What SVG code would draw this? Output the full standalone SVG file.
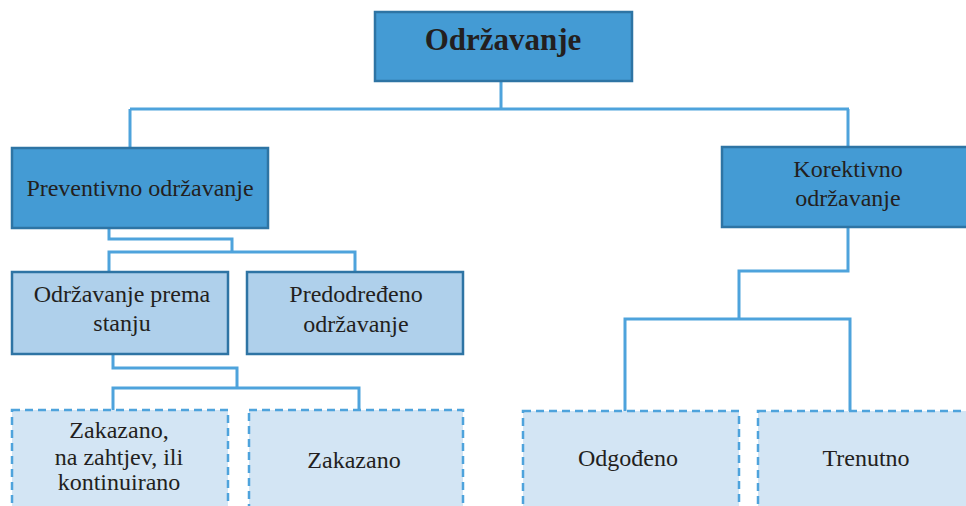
<svg xmlns="http://www.w3.org/2000/svg" width="966" height="506" viewBox="0 0 966 506">
<style>
.dark{fill:#449bd4;stroke:#2e74a4;stroke-width:2.5}
.mid{fill:#afd0eb;stroke:#2e74a4;stroke-width:2.5}
.dash{fill:#d3e5f4;stroke:#4ea3dc;stroke-width:2.5;stroke-dasharray:8 5}
.t{font-family:"Liberation Serif","Times New Roman",serif;font-size:24px;fill:#231f20;text-anchor:middle}
.b{font-weight:bold;font-size:31px}
.c{fill:none;stroke:#4ea3dc;stroke-width:3}
</style>
<rect width="966" height="506" fill="#ffffff"/>
<g id="connectors">
<path class="c" d="M501 81 V109 M130 109 H849 M130 109 V148 M848 109 V147"/>
<path class="c" d="M109 228 V239 H232 V252 M109 272 V252 H355 V272"/>
<path class="c" d="M113 354 V368 H237 V388 M113 410 V388 H359 V410"/>
<path class="c" d="M848 227 V271 H739 V319 M625 411 V319 H850 V411"/>
</g>
<g id="odrzavanje">
<rect class="dark" x="375" y="12" width="257" height="69"/>
<text class="t b" x="503" y="50">Održavanje</text>
</g>
<g id="preventivno">
<rect class="dark" x="12" y="148" width="256" height="80"/>
<text class="t" x="140" y="196">Preventivno održavanje</text>
</g>
<g id="korektivno">
<rect class="dark" x="722" y="147" width="250" height="80"/>
<text class="t" x="848" y="177">Korektivno</text>
<text class="t" x="848" y="206">održavanje</text>
</g>
<g id="prema-stanju">
<rect class="mid" x="12" y="272" width="216" height="82"/>
<text class="t" x="122" y="302">Održavanje prema</text>
<text class="t" x="122" y="331">stanju</text>
</g>
<g id="predodredeno">
<rect class="mid" x="247" y="272" width="216" height="82"/>
<text class="t" x="356" y="302">Predodređeno</text>
<text class="t" x="356" y="332">održavanje</text>
</g>
<g id="zakazano-zahtjev">
<rect class="dash" x="12" y="410" width="216" height="110"/>
<text class="t" x="119" y="438">Zakazano,</text>
<text class="t" x="119" y="465">na zahtjev, ili</text>
<text class="t" x="119" y="490">kontinuirano</text>
</g>
<g id="zakazano">
<rect class="dash" x="249" y="410" width="214" height="110"/>
<text class="t" x="354" y="468">Zakazano</text>
</g>
<g id="odgodeno">
<rect class="dash" x="523" y="411" width="216" height="110"/>
<text class="t" x="628" y="466">Odgođeno</text>
</g>
<g id="trenutno">
<rect class="dash" x="758" y="411" width="216" height="110"/>
<text class="t" x="866" y="466">Trenutno</text>
</g>
</svg>
